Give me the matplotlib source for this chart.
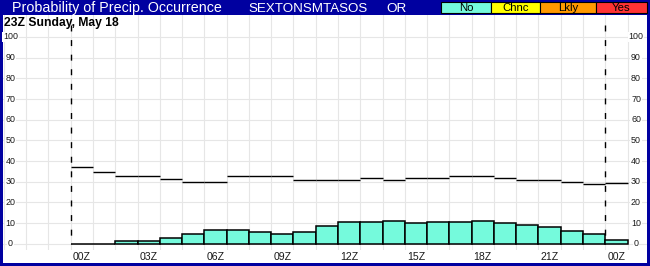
import matplotlib
matplotlib.use("Agg")
import matplotlib.pyplot as plt
from matplotlib.patches import Rectangle
import numpy as np

plt.rcParams['font.family'] = ['Liberation Sans', 'DejaVu Sans']
plt.rcParams['lines.scale_dashes'] = False

# ---- data ----
hours = list(range(25))
pop_values = [0, 0, 1.1, 1.1, 2.6, 4.5, 6.4, 6.4, 5.5, 4.5, 5.8, 8.4, 10.3, 10.3, 10.8,
              9.8, 10.3, 10.3, 10.8, 9.8, 8.9, 7.9, 6.0, 4.5, 1.6]
line_values = [37, 34.5, 32.6, 32.6, 31.1, 30, 30, 32.6, 32.6, 32.6, 30.6, 30.6, 30.6, 31.6,
               30.6, 31.6, 31.6, 32.6, 32.6, 31.6, 30.6, 30.6, 29.7, 28.7, 29.2]
xtick_hours = [0, 3, 6, 9, 12, 15, 18, 21, 24]
xtick_labels = ["00Z", "03Z", "06Z", "09Z", "12Z", "15Z", "18Z", "21Z", "00Z"]
ytick_values = list(range(0, 101, 10))
day_lines = [0, 24]
legend_labels = ["No", "Chnc", "Lkly", "Yes"]
legend_colors = ["#75FADC", "#FFFF00", "#FF9900", "#FF3333"]
title = "Probability of Precip. Occurrence"
station = "SEXTONSMTASOS"
state = "OR"
subtitle = "23Z Sunday, May 18"

W, H = 650, 266
NAVY = "#0000A0"
fig = plt.figure(figsize=(W / 100, H / 100), dpi=100, facecolor=NAVY)

def fx(x):
    return x / W

def fy(y):
    return 1 - y / H

# white panel
fig.patches.append(Rectangle((fx(2.7), fy(262.5)), fx(647.3) - fx(2.7), fy(14.5) - fy(262.5),
                             transform=fig.transFigure, facecolor="white", edgecolor="none", zorder=-1))

# axes geometry: hour h -> px 70.7 + 22.275*h ; value v -> py 243.7 - 2.067*v
x0_px, hx = 70.7, 22.275
y0_px, vy = 243.7, 2.067
ax_left, ax_right = 2.7, 647.3
ax_top, ax_bot = 14.5, 250
ax = fig.add_axes([fx(ax_left), fy(ax_bot), fx(ax_right) - fx(ax_left), fy(ax_top) - fy(ax_bot)])
ax.set_zorder(1)
ax.set_xlim((ax_left - x0_px) / hx, (ax_right - x0_px) / hx)
ax.set_ylim((y0_px - ax_bot) / vy, (y0_px - ax_top) / vy)
ax.set_facecolor("white")
for s in ax.spines.values():
    s.set_visible(False)
ax.set_xticks(np.arange(-3, 26, 1))
ax.set_yticks(ytick_values)
ax.tick_params(length=0, labelbottom=False, labelleft=False)
ax.grid(True, color="#E6E6E6", lw=0.8, zorder=0)
ax.set_axisbelow(True)

ax.bar(hours, pop_values, width=1, align="edge", color=legend_colors[0],
       edgecolor="black", linewidth=1.1, zorder=3)
ax.hlines(line_values, hours, [h + 1 for h in hours], color="black", lw=1.0, zorder=4)
for d in day_lines:
    ax.plot([d, d], [106, 0], color="black", lw=1.0, ls=(0, (4.3, 6.2)), zorder=4)

# y labels both sides
xl = (10.5 - x0_px) / hx
xr = (636 - x0_px) / hx
for v in ytick_values:
    for xx in (xl, xr):
        ax.text(xx, v, str(v), ha="center", va="center", fontsize=6.4, color="#1a1a1a",
                bbox=dict(facecolor="white", edgecolor="none", pad=0.5), zorder=5)

# x labels
for h, lab in zip(xtick_hours, xtick_labels):
    fig.text(fx(x0_px + hx * h + 2), fy(256.5), lab, ha="left", va="center", fontsize=7.6,
             color="#1a1a1a", zorder=3)

# header
fig.text(fx(12), fy(11.7), title, ha="left", va="baseline", fontsize=10.3, color="white", zorder=3)
fig.text(fx(248), fy(11.7), station, ha="left", va="baseline", fontsize=9.6, color="white", zorder=3)
fig.text(fx(386), fy(11.7), state, ha="left", va="baseline", fontsize=9.7, color="white", zorder=3)

edges = [441, 491, 540, 596, 647]
for i, (lab, col) in enumerate(zip(legend_labels, legend_colors)):
    x1, x2 = edges[i], edges[i + 1]
    fig.patches.append(Rectangle((fx(x1), fy(13.2)), fx(x2) - fx(x1), fy(1.8) - fy(13.2),
                                 transform=fig.transFigure, facecolor=col, edgecolor="black", lw=0.8, zorder=2))
    fig.text(fx((x1 + x2) / 2), fy(11), lab, ha="center", va="baseline", fontsize=8.2, color="black", zorder=3)

fig.text(fx(4), fy(25.8), subtitle, ha="left", va="baseline", fontsize=8.75, fontweight="bold",
         color="black", zorder=3)

fig.savefig("out.png", dpi=100, facecolor=NAVY)
